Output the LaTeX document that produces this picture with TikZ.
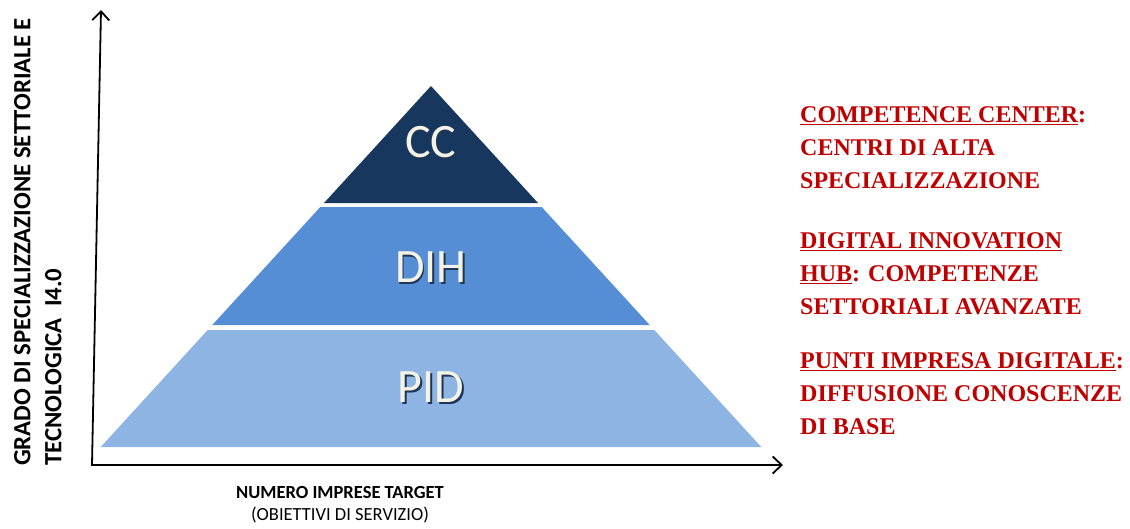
\documentclass[tikz,border=0pt]{standalone}
\usepackage{fontspec}
\setmainfont{Liberation Serif}
\newfontfamily\calibri{Carlito}
\usetikzlibrary{arrows.meta}
\definecolor{ccblue}{HTML}{17375E}
\definecolor{dihblue}{HTML}{558ED5}
\definecolor{pidblue}{HTML}{8EB4E3}
\definecolor{labelcream}{HTML}{F4F2E4}
\definecolor{labelshadow}{HTML}{1E3556}
\definecolor{legendred}{HTML}{C00000}
\newcommand{\levellabel}[1]{\makebox[0pt][l]{\hspace{1.5pt}\raisebox{-1.5pt}{\textcolor{labelshadow}{#1}}}#1}
\begin{document}
\begin{tikzpicture}[x=1pt,y=-1pt,
    level/.style={font=\calibri\fontsize{48}{48}\selectfont, text=labelcream, inner sep=0pt},
    axis/.style={line width=1.8pt, {Straight Barb[length=9pt,width=17pt]}-{Straight Barb[length=9pt,width=17pt]}},
    legend/.style={font=\bfseries\fontsize{24}{33}\selectfont, text=legendred, align=left, anchor=north west, inner sep=0pt}]
  \useasboundingbox (0,0) rectangle (1130,528);
  \fill[ccblue] (431,86) -- (538,203) -- (324,203) -- cycle;
  \fill[dihblue] (320.3,207) -- (541.7,207) -- (649.7,325) -- (212.3,325) -- cycle;
  \fill[pidblue] (207.7,330) -- (654.3,330) -- (761.3,447) -- (100.7,447) -- cycle;
  \coordinate (ytip) at (101,10);
  \coordinate (origin) at (92,465);
  \coordinate (xtip) at (783,465);
  \draw[axis] (ytip) -- (origin) -- (xtip);
  \node[level] (cc) at (431,143) {\levellabel{CC}};
  \node[level] (dih) at (431,268) {\levellabel{DIH}};
  \node[level] (pid) at (431,388) {\levellabel{PID}};
  \node[legend] (cctext) at (800,106) {\underline{COMPETENCE CENTER}:\\CENTRI DI ALTA\\SPECIALIZZAZIONE};
  \node[legend] (dihtext) at (800,232) {\underline{DIGITAL INNOVATION}\\\underline{HUB}: COMPETENZE\\SETTORIALI AVANZATE};
  \node[legend] (pidtext) at (800,352) {\underline{PUNTI IMPRESA DIGITALE}:\\DIFFUSIONE CONOSCENZE\\DI BASE};
  \node[rotate=90, anchor=north west, align=left, inner sep=0pt, font=\calibri\bfseries\fontsize{24.8}{31}\selectfont] (ylabel) at (14,466) {GRADO DI SPECIALIZZAZIONE SETTORIALE E\\TECNOLOGICA \ I4.0};
  \node[anchor=north, align=center, inner sep=0pt, font=\calibri\fontsize{18.5}{22}\selectfont] (xlabel) at (340,486) {\textbf{NUMERO IMPRESE TARGET}\\(OBIETTIVI DI SERVIZIO)};
\end{tikzpicture}
\end{document}
